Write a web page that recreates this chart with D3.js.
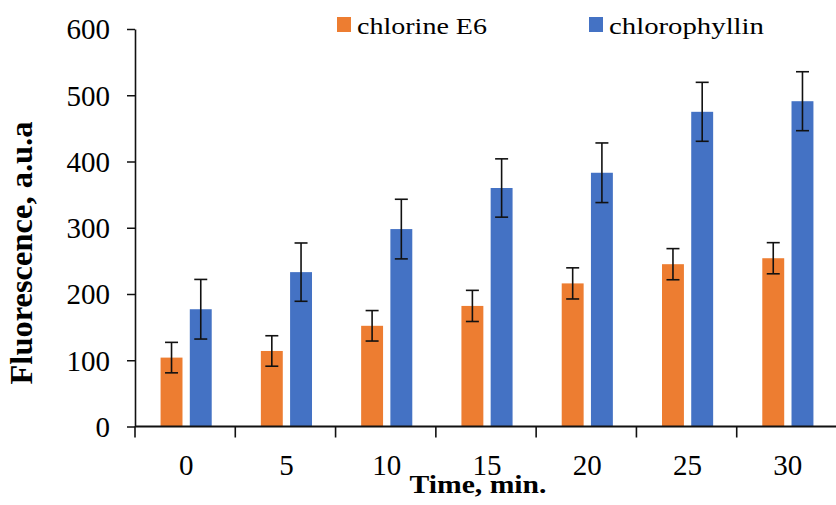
<!DOCTYPE html>
<html>
<head>
<meta charset="utf-8">
<script src="https://cdn.jsdelivr.net/npm/d3@7"></script>
<style>
  body { margin: 0; background: #fff; }
  svg { display: block; }
  svg text { font-family: 'Liberation Serif', 'Times New Roman', serif; fill: #000; }
</style>
</head>
<body>
<svg width="836" height="505"></svg>
<script>
var categories = ["0", "5", "10", "15", "20", "25", "30"];
var seriesNames = ["chlorine E6", "chlorophyllin"];
var chlorineE6 = [104, 114, 152, 182, 216, 245, 254];
var chlorineE6Err = [23, 23, 23, 23.5, 23.5, 23.5, 23.5];
var chlorophyllin = [177, 233, 298, 360, 383, 475, 491];
var chlorophyllinErr = [45, 44, 45, 44, 45, 44.5, 44.5];
var yTicks = [0, 100, 200, 300, 400, 500, 600];
var colors = ["#ED7D31", "#4472C4"];

var svg = d3.select("svg"),
    margin = { top: 29, right: 0, bottom: 78.5, left: 135 },
    width = svg.attr("width") - margin.left - margin.right,
    height = svg.attr("height") - margin.top - margin.bottom;

var g = svg.append("g")
    .attr("transform", "translate(" + margin.left + "," + margin.top + ")");

var xScale = d3.scaleBand().domain(categories).range([0, width + 1]).padding(0);
var bw = xScale.bandwidth();
var x1 = d3.scaleBand().domain(seriesNames)
    .range([0.255 * bw, 0.765 * bw]).paddingInner(0.25).paddingOuter(0);
var yScale = d3.scaleLinear().domain([0, 600]).range([height, 0]);

var data = categories.map(function(c, i) {
    return { cat: c, values: [
        { s: seriesNames[0], v: chlorineE6[i], e: chlorineE6Err[i] },
        { s: seriesNames[1], v: chlorophyllin[i], e: chlorophyllinErr[i] }
    ]};
});

// Bars
var groups = g.selectAll(".grp")
    .data(data)
    .enter().append("g")
    .attr("class", "grp")
    .attr("transform", function(d) { return "translate(" + xScale(d.cat) + ",0)"; });

groups.selectAll("rect")
    .data(function(d) { return d.values; })
    .enter().append("rect")
    .attr("x", function(d) { return x1(d.s); })
    .attr("y", function(d) { return yScale(d.v); })
    .attr("width", x1.bandwidth())
    .attr("height", function(d) { return height - yScale(d.v); })
    .attr("fill", function(d, i) { return colors[i]; });

// Error bars
var err = groups.selectAll(".err")
    .data(function(d) { return d.values; })
    .enter().append("g")
    .attr("class", "err")
    .attr("stroke", "#111")
    .attr("stroke-width", 1.6);

var capW = 6.5;
err.append("line")
    .attr("x1", function(d) { return x1(d.s) + x1.bandwidth() / 2; })
    .attr("x2", function(d) { return x1(d.s) + x1.bandwidth() / 2; })
    .attr("y1", function(d) { return yScale(d.v + d.e); })
    .attr("y2", function(d) { return yScale(d.v - d.e); });
[1, -1].forEach(function(sign) {
    err.append("line")
        .attr("x1", function(d) { return x1(d.s) + x1.bandwidth() / 2 - capW; })
        .attr("x2", function(d) { return x1(d.s) + x1.bandwidth() / 2 + capW; })
        .attr("y1", function(d) { return yScale(d.v + sign * d.e); })
        .attr("y2", function(d) { return yScale(d.v + sign * d.e); });
});

// Y Axis
var yAxis = g.append("g")
    .call(d3.axisLeft(yScale).tickValues(yTicks).tickSize(8).tickPadding(17).tickSizeOuter(0));
yAxis.attr("font-family", null);
yAxis.select(".domain").attr("stroke", "#111").attr("stroke-width", 1.6);
yAxis.selectAll(".tick line").attr("stroke", "#111").attr("stroke-width", 1.5);
yAxis.selectAll("text")
    .attr("fill", "#000")
    .attr("dy", "0.34em")
    .style("font-size", "29px");

// X Axis: ticks between categories
var xAxis = g.append("g")
    .attr("transform", "translate(0," + height + ")");
xAxis.append("line")
    .attr("x1", 0).attr("x2", width + 1)
    .attr("stroke", "#111").attr("stroke-width", 2);
xAxis.selectAll(".xtick")
    .data(categories)
    .enter().append("line")
    .attr("x1", function(d) { return xScale(d); })
    .attr("x2", function(d) { return xScale(d); })
    .attr("y1", 0).attr("y2", 11)
    .attr("stroke", "#111").attr("stroke-width", 1.6);
xAxis.selectAll(".xlab")
    .data(categories)
    .enter().append("text")
    .attr("x", function(d) { return xScale(d) + bw / 2 + 1; })
    .attr("y", 48)
    .attr("text-anchor", "middle")
    .style("font-size", "29px")
    .text(function(d) { return d; });

// X Axis Label
svg.append("text")
    .attr("x", 478)
    .attr("y", 493)
    .attr("text-anchor", "middle")
    .attr("font-weight", "bold")
    .attr("textLength", 137)
    .attr("lengthAdjust", "spacingAndGlyphs")
    .style("font-size", "25px")
    .text("Time, min.");

// Y Axis Label
svg.append("text")
    .attr("transform", "translate(32,253) rotate(-90)")
    .attr("text-anchor", "middle")
    .attr("font-weight", "bold")
    .attr("textLength", 263)
    .attr("lengthAdjust", "spacingAndGlyphs")
    .style("font-size", "31px")
    .text("Fluorescence, a.u.a");

// Legend
var legendX = [337, 589];
var legendW = [130, 155];
var legend = svg.selectAll(".legend")
    .data(seriesNames)
    .enter().append("g")
    .attr("class", "legend")
    .attr("transform", function(d, i) { return "translate(" + legendX[i] + ",0)"; });
legend.append("rect")
    .attr("x", 0).attr("y", 17)
    .attr("width", 14).attr("height", 15)
    .attr("fill", function(d, i) { return colors[i]; });
legend.append("text")
    .attr("x", 20).attr("y", 34)
    .attr("textLength", function(d, i) { return legendW[i]; })
    .attr("lengthAdjust", "spacingAndGlyphs")
    .style("font-size", "24px")
    .text(function(d) { return d; });
</script>
</body>
</html>
